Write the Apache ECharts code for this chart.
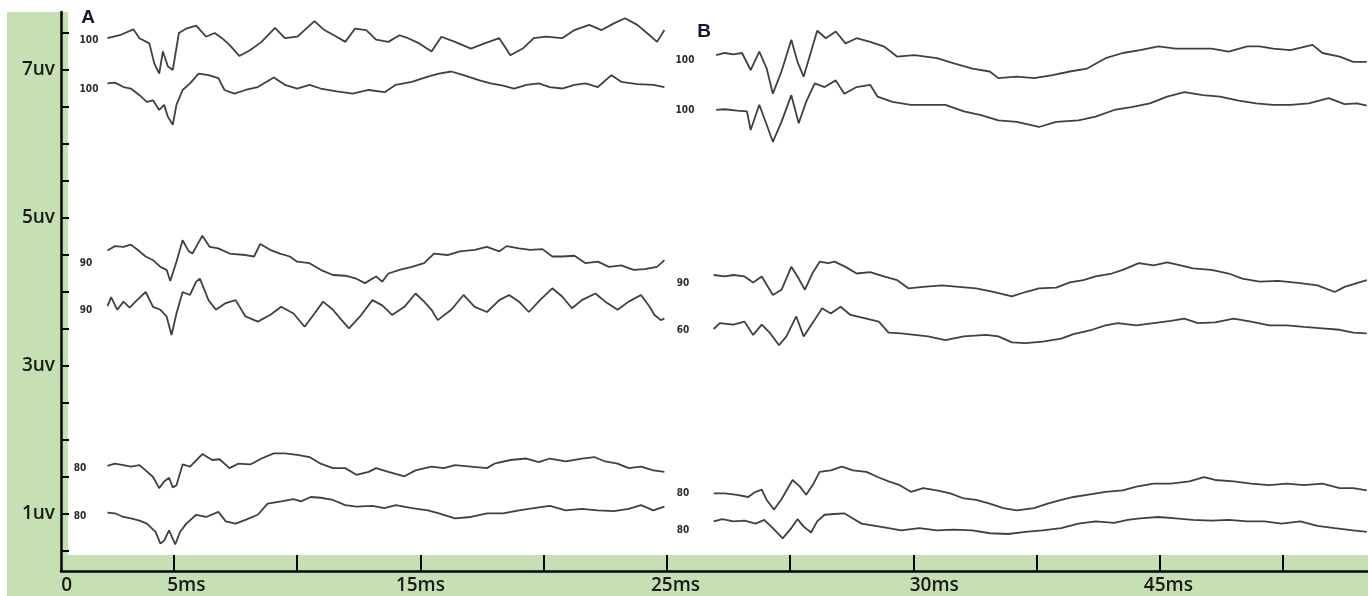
<!DOCTYPE html>
<html>
<head>
<meta charset="utf-8">
<script src="https://cdn.jsdelivr.net/npm/echarts@6/dist/echarts.min.js"></script>
<style>
html,body{margin:0;padding:0;background:#fff;}
#chart{width:1368px;height:596px;}
</style>
</head>
<body>
<div id="chart"></div>
<script>
// ---- tick labels ----
const yTickValues = [0.5,1,1.5,2,2.5,3,3.5,4,4.5,5,5.5,6,6.5,7,7.5];
const yLabelValues = [1,3,5,7];
const xTickValues = [1,2,3,4,5,6,7,8,9,10];
const xLabelValues = [0.13,1.1,3.0,5.07,7.17,9.07];
const xLabelTexts = ['0','5ms','15ms','25ms','30ms','45ms'];

// ---- trace labels ----
const traceNamesA = ['100','100','90','90','80','80'];
const traceNamesB = ['100','100','90','60','80','80'];

// ---- panel A traces [time, uV] ----
const A1 = [[0.46,7.43],[0.56,7.47],[0.67,7.55],[0.72,7.43],[0.80,7.36],[0.84,7.09],[0.88,6.95],[0.91,7.25],[0.95,7.05],[0.99,7.00],[1.04,7.50],[1.10,7.56],[1.18,7.60],[1.26,7.45],[1.33,7.50],[1.39,7.43],[1.45,7.34],[1.53,7.19],[1.62,7.27],[1.71,7.38],[1.82,7.57],[1.90,7.43],[2.00,7.45],[2.06,7.54],[2.14,7.66],[2.22,7.54],[2.32,7.45],[2.39,7.38],[2.47,7.56],[2.56,7.54],[2.64,7.41],[2.74,7.38],[2.83,7.47],[2.90,7.43],[2.99,7.36],[3.09,7.25],[3.17,7.45],[3.28,7.38],[3.41,7.29],[3.52,7.36],[3.64,7.43],[3.73,7.20],[3.83,7.29],[3.92,7.43],[4.02,7.45],[4.15,7.43],[4.25,7.54],[4.37,7.61],[4.47,7.54],[4.57,7.63],[4.66,7.70],[4.76,7.61],[4.86,7.47],[4.92,7.38],[4.98,7.54]];
const A2 = [[0.46,6.82],[0.52,6.83],[0.59,6.77],[0.65,6.75],[0.72,6.66],[0.78,6.57],[0.83,6.59],[0.88,6.46],[0.92,6.53],[0.95,6.37],[0.99,6.26],[1.02,6.53],[1.07,6.73],[1.13,6.82],[1.20,6.95],[1.28,6.93],[1.36,6.89],[1.41,6.73],[1.49,6.68],[1.58,6.73],[1.68,6.77],[1.81,6.90],[1.90,6.80],[2.00,6.75],[2.10,6.80],[2.19,6.75],[2.32,6.71],[2.45,6.68],[2.58,6.73],[2.71,6.70],[2.80,6.80],[2.93,6.84],[3.06,6.91],[3.15,6.95],[3.25,6.98],[3.35,6.93],[3.48,6.86],[3.57,6.82],[3.67,6.79],[3.76,6.75],[3.86,6.80],[3.96,6.82],[4.05,6.77],[4.15,6.75],[4.25,6.80],[4.34,6.82],[4.44,6.77],[4.55,6.93],[4.63,6.84],[4.76,6.81],[4.89,6.80],[4.98,6.77]];
const A3 = [[0.46,4.56],[0.52,4.62],[0.59,4.61],[0.65,4.64],[0.72,4.55],[0.77,4.48],[0.83,4.43],[0.89,4.34],[0.94,4.30],[0.97,4.15],[1.02,4.41],[1.07,4.70],[1.12,4.55],[1.15,4.52],[1.20,4.67],[1.23,4.76],[1.29,4.61],[1.36,4.59],[1.45,4.52],[1.58,4.50],[1.65,4.48],[1.70,4.65],[1.78,4.57],[1.86,4.52],[1.94,4.48],[2.00,4.41],[2.10,4.39],[2.19,4.30],[2.29,4.23],[2.39,4.22],[2.48,4.18],[2.55,4.12],[2.64,4.21],[2.69,4.14],[2.74,4.25],[2.83,4.30],[2.93,4.34],[3.03,4.39],[3.11,4.52],[3.22,4.50],[3.32,4.55],[3.44,4.57],[3.54,4.61],[3.64,4.55],[3.70,4.62],[3.80,4.59],[3.89,4.57],[3.99,4.58],[4.07,4.48],[4.15,4.48],[4.25,4.49],[4.34,4.39],[4.44,4.41],[4.53,4.34],[4.63,4.36],[4.73,4.30],[4.82,4.31],[4.92,4.34],[4.98,4.43]];
const A4 = [[0.46,3.81],[0.49,3.93],[0.54,3.76],[0.59,3.87],[0.64,3.79],[0.70,3.89],[0.77,4.00],[0.83,3.80],[0.89,3.76],[0.94,3.67],[0.98,3.42],[1.02,3.71],[1.07,4.00],[1.13,3.96],[1.18,4.14],[1.21,4.18],[1.28,3.89],[1.34,3.76],[1.42,3.85],[1.50,3.89],[1.58,3.67],[1.68,3.60],[1.78,3.69],[1.87,3.80],[1.97,3.71],[2.06,3.53],[2.14,3.71],[2.21,3.87],[2.29,3.76],[2.35,3.64],[2.42,3.51],[2.51,3.67],[2.61,3.89],[2.69,3.82],[2.77,3.69],[2.87,3.80],[2.96,3.98],[3.03,3.87],[3.09,3.76],[3.14,3.62],[3.25,3.76],[3.35,3.96],[3.44,3.80],[3.54,3.73],[3.64,3.89],[3.72,3.96],[3.80,3.87],[3.88,3.73],[3.97,3.89],[4.07,4.05],[4.15,3.94],[4.23,3.78],[4.31,3.89],[4.42,3.98],[4.50,3.87],[4.60,3.76],[4.69,3.87],[4.79,3.96],[4.86,3.80],[4.90,3.69],[4.95,3.62],[4.98,3.64]];
const A5 = [[0.46,1.65],[0.52,1.68],[0.59,1.66],[0.65,1.64],[0.72,1.66],[0.77,1.59],[0.83,1.50],[0.88,1.35],[0.92,1.44],[0.96,1.49],[0.99,1.36],[1.02,1.39],[1.07,1.67],[1.13,1.64],[1.23,1.81],[1.31,1.73],[1.37,1.74],[1.45,1.62],[1.52,1.68],[1.62,1.67],[1.71,1.75],[1.81,1.82],[1.90,1.82],[2.00,1.80],[2.10,1.77],[2.19,1.68],[2.29,1.62],[2.39,1.62],[2.48,1.53],[2.58,1.57],[2.64,1.62],[2.74,1.57],[2.87,1.51],[2.96,1.59],[3.09,1.64],[3.19,1.62],[3.28,1.66],[3.41,1.64],[3.54,1.62],[3.60,1.68],[3.73,1.73],[3.86,1.75],[3.96,1.70],[4.05,1.75],[4.18,1.71],[4.31,1.75],[4.41,1.77],[4.50,1.71],[4.60,1.68],[4.69,1.62],[4.79,1.64],[4.89,1.59],[4.98,1.57]];
const A6 = [[0.46,1.02],[0.52,1.01],[0.59,0.96],[0.65,0.94],[0.72,0.91],[0.78,0.87],[0.85,0.76],[0.89,0.60],[0.92,0.64],[0.96,0.78],[1.01,0.59],[1.05,0.76],[1.10,0.87],[1.18,0.99],[1.26,0.96],[1.36,1.03],[1.42,0.90],[1.50,0.87],[1.58,0.92],[1.68,0.99],[1.76,1.14],[1.87,1.17],[1.97,1.20],[2.03,1.17],[2.11,1.23],[2.19,1.22],[2.29,1.19],[2.39,1.12],[2.48,1.10],[2.61,1.11],[2.71,1.08],[2.80,1.12],[2.93,1.08],[3.06,1.05],[3.15,1.01],[3.28,0.94],[3.41,0.96],[3.54,1.01],[3.67,1.01],[3.80,1.05],[3.92,1.08],[4.05,1.11],[4.18,1.05],[4.31,1.07],[4.44,1.05],[4.57,1.04],[4.69,1.07],[4.79,1.12],[4.89,1.05],[4.98,1.10]];

// ---- panel B traces [time, uV] ----
const B1 = [[5.40,7.20],[5.47,7.23],[5.54,7.21],[5.61,7.23],[5.68,7.00],[5.75,7.25],[5.81,7.02],[5.86,6.68],[5.93,6.98],[6.01,7.41],[6.06,7.11],[6.11,6.91],[6.17,7.25],[6.22,7.53],[6.29,7.43],[6.37,7.52],[6.45,7.36],[6.54,7.43],[6.65,7.38],[6.76,7.32],[6.87,7.18],[7.01,7.20],[7.19,7.16],[7.33,7.09],[7.48,7.02],[7.62,6.98],[7.69,6.89],[7.84,6.91],[7.98,6.89],[8.13,6.93],[8.27,6.98],[8.41,7.02],[8.56,7.16],[8.70,7.23],[8.84,7.27],[8.99,7.32],[9.13,7.29],[9.27,7.29],[9.42,7.29],[9.56,7.25],[9.71,7.32],[9.81,7.32],[9.92,7.29],[10.06,7.27],[10.24,7.34],[10.32,7.23],[10.46,7.18],[10.57,7.11],[10.68,7.11]];
const B2 = [[5.40,6.46],[5.47,6.47],[5.57,6.45],[5.65,6.44],[5.68,6.19],[5.75,6.53],[5.81,6.26],[5.86,6.03],[5.93,6.30],[6.01,6.66],[6.07,6.28],[6.13,6.57],[6.20,6.82],[6.28,6.77],[6.37,6.86],[6.44,6.68],[6.54,6.77],[6.65,6.80],[6.71,6.64],[6.83,6.57],[6.98,6.53],[7.12,6.53],[7.26,6.53],[7.41,6.44],[7.55,6.39],[7.69,6.32],[7.84,6.30],[8.02,6.23],[8.16,6.30],[8.34,6.32],[8.48,6.37],[8.63,6.46],[8.77,6.50],[8.92,6.55],[9.06,6.64],[9.20,6.70],[9.35,6.66],[9.49,6.64],[9.63,6.59],[9.78,6.55],[9.92,6.53],[10.06,6.53],[10.21,6.55],[10.37,6.62],[10.50,6.54],[10.60,6.55],[10.68,6.52]];
const B3 = [[5.38,4.23],[5.47,4.21],[5.54,4.23],[5.63,4.21],[5.70,4.13],[5.77,4.21],[5.86,3.96],[5.93,4.03],[6.01,4.34],[6.06,4.21],[6.12,4.03],[6.18,4.25],[6.24,4.41],[6.31,4.39],[6.36,4.41],[6.45,4.34],[6.54,4.25],[6.65,4.27],[6.76,4.21],[6.87,4.16],[6.96,4.05],[7.08,4.07],[7.23,4.09],[7.37,4.07],[7.51,4.05],[7.66,4.00],[7.80,3.94],[7.91,4.00],[8.02,4.05],[8.16,4.06],[8.27,4.13],[8.38,4.16],[8.48,4.21],[8.61,4.25],[8.70,4.30],[8.83,4.39],[8.95,4.36],[9.06,4.40],[9.17,4.36],[9.27,4.32],[9.42,4.30],[9.56,4.25],[9.67,4.18],[9.81,4.14],[9.96,4.15],[10.14,4.12],[10.28,4.09],[10.42,4.00],[10.50,4.07],[10.60,4.12],[10.68,4.16]];
const B4 = [[5.38,3.50],[5.43,3.58],[5.54,3.56],[5.63,3.60],[5.70,3.42],[5.77,3.56],[5.84,3.44],[5.91,3.28],[5.97,3.40],[6.05,3.67],[6.11,3.40],[6.19,3.60],[6.26,3.78],[6.33,3.71],[6.41,3.80],[6.49,3.69],[6.62,3.64],[6.72,3.60],[6.80,3.45],[6.90,3.44],[7.01,3.42],[7.12,3.40],[7.26,3.35],[7.41,3.40],[7.59,3.42],[7.69,3.40],[7.80,3.32],[7.91,3.31],[8.05,3.33],[8.20,3.37],[8.30,3.43],[8.45,3.49],[8.56,3.55],[8.66,3.58],[8.81,3.55],[8.95,3.58],[9.09,3.61],[9.20,3.64],[9.31,3.58],[9.45,3.59],[9.60,3.64],[9.74,3.60],[9.89,3.55],[10.03,3.55],[10.17,3.53],[10.32,3.51],[10.46,3.49],[10.57,3.45],[10.68,3.44]];
const B5 = [[5.38,1.28],[5.47,1.28],[5.57,1.26],[5.66,1.23],[5.72,1.30],[5.77,1.33],[5.81,1.19],[5.87,1.06],[5.93,1.20],[6.02,1.46],[6.08,1.37],[6.13,1.26],[6.19,1.41],[6.24,1.57],[6.33,1.59],[6.42,1.64],[6.51,1.59],[6.62,1.57],[6.71,1.50],[6.80,1.44],[6.89,1.39],[6.98,1.30],[7.08,1.35],[7.19,1.32],[7.30,1.28],[7.41,1.21],[7.51,1.19],[7.62,1.14],[7.73,1.08],[7.84,1.05],[7.98,1.08],[8.09,1.14],[8.20,1.19],[8.30,1.23],[8.41,1.26],[8.56,1.30],[8.70,1.32],[8.81,1.37],[8.95,1.41],[9.09,1.41],[9.24,1.44],[9.36,1.50],[9.45,1.46],[9.60,1.44],[9.74,1.41],[9.89,1.39],[10.03,1.41],[10.17,1.39],[10.32,1.41],[10.46,1.35],[10.57,1.35],[10.68,1.32]];
const B6 = [[5.38,0.90],[5.45,0.93],[5.54,0.90],[5.63,0.91],[5.72,0.87],[5.79,0.92],[5.86,0.81],[5.94,0.67],[6.01,0.81],[6.06,0.93],[6.11,0.83],[6.17,0.75],[6.22,0.90],[6.28,0.99],[6.36,1.00],[6.44,1.01],[6.51,0.94],[6.58,0.87],[6.69,0.84],[6.80,0.81],[6.90,0.78],[7.05,0.81],[7.19,0.78],[7.33,0.79],[7.48,0.78],[7.62,0.74],[7.77,0.73],[7.91,0.76],[8.05,0.78],[8.20,0.81],[8.34,0.87],[8.48,0.90],[8.63,0.88],[8.74,0.92],[8.84,0.94],[8.99,0.96],[9.13,0.94],[9.27,0.92],[9.42,0.91],[9.56,0.92],[9.71,0.90],[9.85,0.90],[9.99,0.87],[10.14,0.90],[10.28,0.84],[10.42,0.81],[10.57,0.78],[10.68,0.76]];

const tracesA = [A1,A2,A3,A4,A5,A6];
const tracesB = [B1,B2,B3,B4,B5,B6];

const chart = echarts.init(document.getElementById('chart'));
const green = '#c6e0b4';
const traceColor = '#404040';

const series = [];
tracesA.forEach((d,i)=>series.push({name:'A'+traceNamesA[i]+'_'+i,type:'line',data:d,showSymbol:false,symbol:'none',lineStyle:{color:traceColor,width:1.8},silent:true}));
tracesB.forEach((d,i)=>series.push({name:'B'+traceNamesB[i]+'_'+i,type:'line',data:d,showSymbol:false,symbol:'none',lineStyle:{color:traceColor,width:1.8},silent:true}));

function smallLabel(text,x,y){
  return {type:'text',x:x,y:y,z:5,style:{text:text,fill:'#2a2a2a',font:'bold 10px "DejaVu Sans Condensed", "Liberation Sans Narrow", sans-serif',align:'center',verticalAlign:'middle'}};
}
const nameSpotsA = [[89,40],[89,89],[86,263],[86,310],[80,468],[80,516]];
const nameSpotsB = [[685,60],[685,110],[683,283],[683,330],[683,493],[683,530]];
const graphics = [
  {type:'rect',z:-10,shape:{x:7,y:12,width:61,height:584},style:{fill:green}},
  {type:'rect',z:-10,shape:{x:7,y:555,width:1361,height:41},style:{fill:green}},
  {type:'text',x:88,y:18,z:5,style:{text:'A',fill:'#151530',font:'bold 19px "Liberation Sans", Arial, sans-serif',align:'center',verticalAlign:'middle'}},
  {type:'text',x:704,y:32,z:5,style:{text:'B',fill:'#151530',font:'bold 19px "Liberation Sans", Arial, sans-serif',align:'center',verticalAlign:'middle'}}
];
traceNamesA.forEach((t,i)=>graphics.push(smallLabel(t,nameSpotsA[i][0],nameSpotsA[i][1])));
traceNamesB.forEach((t,i)=>graphics.push(smallLabel(t,nameSpotsB[i][0],nameSpotsB[i][1])));

const axisFont = {fontSize:19,fontWeight:600,color:'#1a1a1a',fontFamily:'"Open Sans", "Noto Sans", sans-serif'};

chart.setOption({
  animation:false,
  backgroundColor:'#ffffff',
  grid:{left:61,right:0,top:12,bottom:25},
  xAxis:{
    type:'value',min:0.083,max:10.69,
    axisLine:{show:true,onZero:false,lineStyle:{color:'#000',width:2.5}},
    axisTick:{show:true,inside:true,length:16,customValues:xTickValues,lineStyle:{color:'#000',width:2}},
    axisLabel:Object.assign({show:true,margin:5,customValues:xLabelValues,
      formatter:function(v){const i=xLabelValues.findIndex(a=>Math.abs(a-v)<1e-6);return i>=0?xLabelTexts[i]:'';}},axisFont),
    splitLine:{show:false}
  },
  yAxis:{
    type:'value',min:0.23,max:7.784,
    axisLine:{show:true,onZero:false,lineStyle:{color:'#000',width:2.5}},
    axisTick:{show:true,inside:true,length:8,customValues:yTickValues,lineStyle:{color:'#000',width:2}},
    axisLabel:Object.assign({show:true,margin:6,customValues:yLabelValues,
      formatter:function(v){return v+'uv';}},axisFont),
    splitLine:{show:false}
  },
  graphic:graphics,
  series:series
});
</script>
</body>
</html>
